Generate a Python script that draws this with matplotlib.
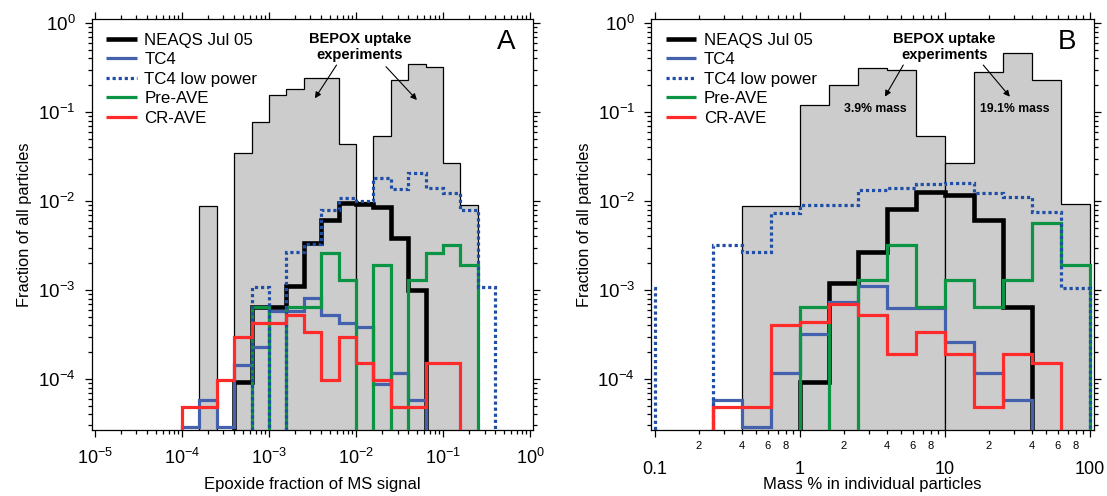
import numpy as np
import matplotlib
matplotlib.use('Agg')
import matplotlib.pyplot as plt
from matplotlib.lines import Line2D
from matplotlib.ticker import LogLocator, NullFormatter

plt.rcParams['font.family'] = ['Liberation Sans', 'DejaVu Sans']
plt.rcParams['mathtext.default'] = 'regular'

# every histogram uses bins 0.2 decades wide; each series = (log10 of first edge, values)
# empty bins (0) drop below the bottom of the axis
bin_w = 0.2

# ---- panel A: epoxide fraction of MS signal ----
bepox1_a_start = -3.8
bepox1_a = [8.8e-3, 0, 0.035, 0.077, 0.155, 0.18, 0.24, 0.24, 0.044]
bepox2_a_start = -2.0
bepox2_a = [9.8e-3, 0.054, 0.23, 0.35, 0.32, 0.027, 9.0e-3]

neaqs_a_start = -3.4
neaqs_a = [9.2e-5, 6.5e-4, 6.5e-4, 1.1e-3, 3.4e-3, 6.1e-3, 9.5e-3,
           9.3e-3, 8.5e-3, 3.8e-3, 1.0e-3]
tc4_a_start = -4.0
tc4_a = [2.9e-5, 5.8e-5, 2.9e-5, 1.44e-4, 2.3e-4, 5.8e-4, 5.8e-4, 8.1e-4, 5.2e-4,
         4.3e-4, 3.8e-4, 8.8e-5, 1.17e-4, 5.8e-5]
tc4lp_a_start = -3.2
tc4lp_a = [1.07e-3, 0, 2.7e-3, 3.3e-3, 7.9e-3, 1.07e-2, 1.0e-2, 0.018, 0.0135,
           0.0205, 0.014, 0.0123, 7.9e-3, 1.07e-3]
preave_a_start = -3.2
preave_a = [6.5e-4, 0, 6.5e-4, 6.5e-4, 2.6e-3, 1.3e-3, 0, 1.9e-3, 0, 1.3e-3,
            2.6e-3, 3.2e-3, 1.9e-3]
crave_a_start = -4.0
crave_a = [4.9e-5, 4.9e-5, 9.8e-5, 3.0e-4, 4.3e-4, 4.3e-4, 5.3e-4, 3.4e-4, 9.8e-5,
           3.0e-4, 1.5e-4, 9.8e-5, 4.9e-5, 4.9e-5, 1.5e-4, 1.5e-4]

# ---- panel B: mass % in individual particles ----
bepox1_b_start = -0.4
bepox1_b = [8.8e-3, 8.8e-3, 0.12, 0.2, 0.31, 0.30, 0.054]
bepox2_b_start = 1.0
bepox2_b = [0.027, 0.28, 0.46, 0.23, 9.3e-3]

neaqs_b_start = 0.0
neaqs_b = [9.2e-5, 1.2e-3, 2.7e-3, 8.1e-3, 0.0127, 0.0117, 6.1e-3, 6.5e-4]
tc4_b_start = -0.6
tc4_b = [5.8e-5, 2.9e-5, 1.16e-4, 3.2e-4, 7.3e-4, 1.1e-3, 6.3e-4, 6.3e-4, 2.6e-4,
         1.16e-4, 5.8e-5]
tc4lp_b_start = -1.2
tc4lp_b = [1.05e-3, 0, 0, 3.2e-3, 2.7e-3, 7.4e-3, 9.0e-3, 9.0e-3, 0.0132, 0.0139,
           0.0155, 0.0161, 0.0122, 0.0112, 7.6e-3, 1.05e-3]
preave_b_start = 0.0
preave_b = [6.5e-4, 0, 1.3e-3, 3.2e-3, 6.5e-4, 1.3e-3, 6.5e-4, 1.3e-3, 5.7e-3, 1.9e-3]
crave_b_start = -0.6
crave_b = [4.9e-5, 4.9e-5, 4.0e-4, 4.4e-4, 6.9e-4, 5.3e-4, 1.9e-4, 3.4e-4, 1.9e-4,
           4.9e-5, 1.9e-4, 1.5e-4]

labels = ['NEAQS Jul 05', 'TC4', 'TC4 low power', 'Pre-AVE', 'CR-AVE']
colors = ['black', '#4361ad', '#1f4ea6', '#0b9444', '#ff2a2a']
widths = [3.3, 2.3, 2.3, 2.3, 2.3]
dotted = (0, (1.0, 0.9))

y_ticks = [1, 1e-1, 1e-2, 1e-3, 1e-4]
y_ticklabels = ['$10^{0}$', '$10^{-1}$', '$10^{-2}$', '$10^{-3}$', '$10^{-4}$']
a_xticks = [1e-5, 1e-4, 1e-3, 1e-2, 1e-1, 1]
a_xticklabels = ['$10^{-5}$', '$10^{-4}$', '$10^{-3}$', '$10^{-2}$', '$10^{-1}$', '$10^{0}$']
b_xticks = [0.1, 1, 10, 100]
b_xticklabels = ['0.1', '1', '10', '100']
b_minor = [0.2, 0.3, 0.4, 0.5, 0.6, 0.7, 0.8, 0.9, 2, 3, 4, 5, 6, 7, 8, 9,
           20, 30, 40, 50, 60, 70, 80, 90]
b_minorlabels = ['2', '', '4', '', '6', '', '8', ''] * 3

below = 1e-8   # off-axis level used for empty bins


def edges_for(start, vals):
    return 10 ** (start + bin_w * np.arange(len(vals) + 1))


def gray_hist(ax, start, vals):
    v = np.array(vals, dtype=float)
    v[v <= 0] = below
    ax.stairs(v, edges_for(start, vals), baseline=below, fill=True,
              facecolor='#cccccc', edgecolor='black', linewidth=0.9, zorder=1)


def line_hist(ax, start, vals, i, z):
    v = np.array(vals, dtype=float)
    v[v <= 0] = below
    ls = dotted if i == 2 else '-'
    ax.stairs(v, edges_for(start, vals), baseline=below, fill=False,
              edgecolor=colors[i], linewidth=widths[i], linestyle=ls,
              joinstyle='miter', capstyle='butt', zorder=z)


fig = plt.figure(figsize=(11.07, 4.96), dpi=100)
ax1 = fig.add_axes([91.5 / 1107, 66 / 496, 441.5 / 1107, 411 / 496])
ax2 = fig.add_axes([651 / 1107, 66 / 496, 443 / 1107, 411 / 496])

panels = [
    (ax1, [(bepox1_a_start, bepox1_a), (bepox2_a_start, bepox2_a)],
     [(neaqs_a_start, neaqs_a), (tc4_a_start, tc4_a), (tc4lp_a_start, tc4lp_a),
      (preave_a_start, preave_a), (crave_a_start, crave_a)]),
    (ax2, [(bepox1_b_start, bepox1_b), (bepox2_b_start, bepox2_b)],
     [(neaqs_b_start, neaqs_b), (tc4_b_start, tc4_b), (tc4lp_b_start, tc4lp_b),
      (preave_b_start, preave_b), (crave_b_start, crave_b)]),
]

# drawing order: black, blue, green, dotted blue, red
order = [0, 1, 3, 2, 4]

for ax, grays, lines in panels:
    for start, vals in grays:
        gray_hist(ax, start, vals)
    for z, i in enumerate(order):
        line_hist(ax, lines[i][0], lines[i][1], i, 3 + z)

    ax.set_xscale('log')
    ax.set_yscale('log')
    ax.set_ylim(2.67e-5, 10 ** 0.045)
    ax.set_yticks(y_ticks, y_ticklabels)
    ax.yaxis.set_minor_locator(LogLocator(base=10, subs=np.arange(2, 10), numticks=20))
    ax.yaxis.set_minor_formatter(NullFormatter())
    ax.tick_params(which='both', direction='out', top=True, right=True, width=0.9)
    ax.tick_params(which='major', length=5)
    ax.tick_params(which='minor', length=2.7)
    ax.tick_params(axis='y', which='major', labelsize=13.5, pad=6.5)
    for s in ax.spines.values():
        s.set_linewidth(0.9)
    ax.set_ylabel('Fraction of all particles', fontsize=11.8)
    ax.yaxis.set_label_coords(-0.134, 0.5)

    handles = [Line2D([], [], color=colors[i], linewidth=widths[i],
                      linestyle=dotted if i == 2 else '-', solid_capstyle='butt',
                      dash_capstyle='butt') for i in range(5)]
    ax.legend(handles, labels, loc='upper left', bbox_to_anchor=(0.033, 0.967),
              frameon=False, fontsize=12.2, handlelength=1.8, handletextpad=0.45,
              labelspacing=0.27, borderpad=0, borderaxespad=0)

# panel A axes
ax1.set_xlim(10 ** -5.040, 10 ** 0.0345)
ax1.set_xticks(a_xticks, a_xticklabels)
ax1.xaxis.set_minor_locator(LogLocator(base=10, subs=np.arange(2, 10), numticks=20))
ax1.xaxis.set_minor_formatter(NullFormatter())
ax1.tick_params(axis='x', which='major', labelsize=13, pad=8)
ax1.set_xlabel('Epoxide fraction of MS signal', fontsize=12)
ax1.xaxis.set_label_coords(0.5, -0.114)

# panel B axes
ax2.set_xlim(10 ** -1.0276, 10 ** 2.0276)
ax2.set_xticks(b_xticks, b_xticklabels)
ax2.set_xticks(b_minor, b_minorlabels, minor=True)
ax2.tick_params(axis='x', which='major', labelsize=13, pad=17)
ax2.tick_params(axis='x', which='minor', labelsize=8, pad=5.5)
ax2.set_xlabel('Mass % in individual particles', fontsize=12)
ax2.xaxis.set_label_coords(0.5, -0.114)

arrow = dict(arrowstyle='-|>', color='black', lw=0.8, mutation_scale=9,
             shrinkA=0, shrinkB=0)

ax1.text(0.608, 0.931, 'BEPOX uptake\nexperiments', transform=ax1.transAxes,
         ha='center', va='center', fontsize=10.5, fontweight='bold', linespacing=1.2)
ax1.annotate('', xy=(0.506, 0.807), xytext=(0.555, 0.888), xycoords='axes fraction',
             arrowprops=arrow)
ax1.annotate('', xy=(0.737, 0.803), xytext=(0.667, 0.884), xycoords='axes fraction',
             arrowprops=arrow)
ax1.text(0.939, 0.944, 'A', transform=ax1.transAxes, ha='center', va='center',
         fontsize=20)

ax2.text(0.6625, 0.931, 'BEPOX uptake\nexperiments', transform=ax2.transAxes,
         ha='center', va='center', fontsize=10.5, fontweight='bold', linespacing=1.2)
ax2.annotate('', xy=(0.528, 0.811), xytext=(0.5695, 0.888), xycoords='axes fraction',
             arrowprops=arrow)
ax2.annotate('', xy=(0.810, 0.811), xytext=(0.750, 0.888), xycoords='axes fraction',
             arrowprops=arrow)
ax2.text(0.506, 0.781, '3.9% mass', transform=ax2.transAxes, ha='center',
         va='center', fontsize=8.8, fontweight='bold')
ax2.text(0.8217, 0.781, '19.1% mass', transform=ax2.transAxes, ha='center',
         va='center', fontsize=8.8, fontweight='bold')
ax2.text(0.940, 0.944, 'B', transform=ax2.transAxes, ha='center', va='center',
         fontsize=20)

fig.savefig('out.png', dpi=100)
